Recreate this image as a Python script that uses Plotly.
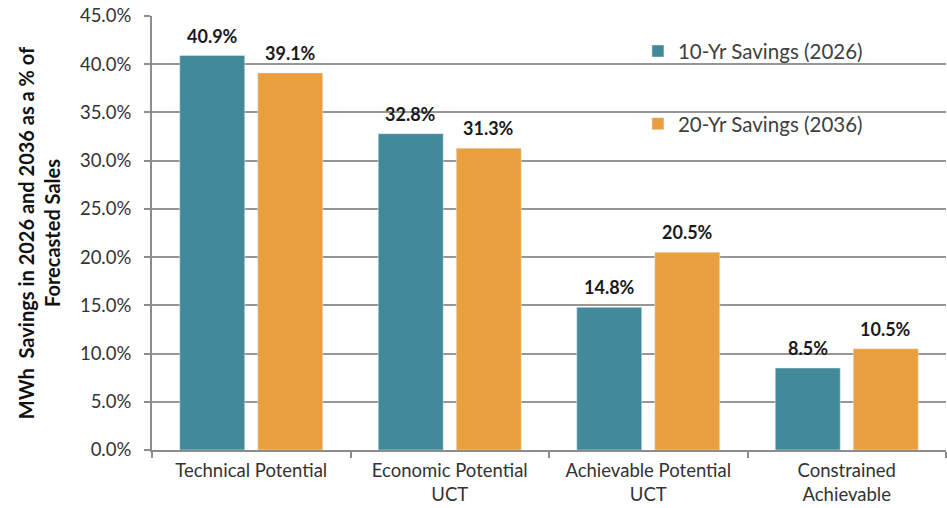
import plotly.graph_objects as go

categories = ["Technical Potential", "Economic Potential<br>UCT", "Achievable Potential<br>UCT", "Constrained<br>Achievable"]
savings_10yr = [40.9, 32.8, 14.8, 8.5]
savings_20yr = [39.1, 31.3, 20.5, 10.5]
series_names = ["10-Yr Savings (2026)", "20-Yr Savings (2036)"]
y_ticks = [0, 5, 10, 15, 20, 25, 30, 35, 40, 45]

FONT = "Lato"
BARGAP = 0.214
SLOT_SHIFT = 39  # px offset of each bar from category center

fig = go.Figure()
for i, (name, vals, color, grp) in enumerate([(series_names[0], savings_10yr, "#428A99", "a"),
                                              (series_names[1], savings_20yr, "#EA9F3E", "b")]):
    fig.add_trace(go.Bar(x=categories, y=vals, name=name, marker_color=color, legendgroup=grp))
    shift = -SLOT_SHIFT if i == 0 else SLOT_SHIFT
    for c, v in zip(categories, vals):
        fig.add_annotation(x=c, y=v, text=f"<b>{v:.1f}%</b>", showarrow=False,
                           xanchor="center", yanchor="bottom", xshift=shift, yshift=7,
                           font=dict(family=FONT, size=18, color="#1a1a1a"))

fig.update_layout(
    width=947, height=508,
    margin=dict(l=152, r=1, t=16, b=58),
    paper_bgcolor="white", plot_bgcolor="white",
    barmode="group", bargap=BARGAP, bargroupgap=0.167,
    font=dict(family=FONT, color="#333333", size=18),
    showlegend=True,
    legend=dict(x=0.612, y=0.965, xanchor="left", yanchor="top",
                bgcolor="rgba(0,0,0,0)", font=dict(size=20.5, color="#404040"),
                traceorder="grouped", tracegroupgap=43, itemwidth=30),
    xaxis=dict(showline=True, linecolor="#8c8c8c", linewidth=2, automargin=False,
               ticks="outside", tickson="boundaries", ticklen=6, tickcolor="#8c8c8c",
               tickwidth=2, ticklabelstandoff=3,
               tickfont=dict(size=18.5, color="#333333")),
    yaxis=dict(range=[0, 45], tickvals=y_ticks, ticktext=[f"{t:.1f}%" for t in y_ticks],
               showgrid=True, gridcolor="#969696", gridwidth=2,
               showline=True, linecolor="#8c8c8c", linewidth=2,
               ticks="outside", ticklen=6, tickcolor="#8c8c8c", tickwidth=2,
               ticklabelstandoff=9,
               tickfont=dict(size=18.5, color="#333333"),
               title=dict(text="MWh  Savings in 2026 and 2036 as a % of<br>Forecasted Sales",
                          font=dict(size=20, color="#111111", weight="bold"), standoff=14)),
)
fig.write_html("out.html")
